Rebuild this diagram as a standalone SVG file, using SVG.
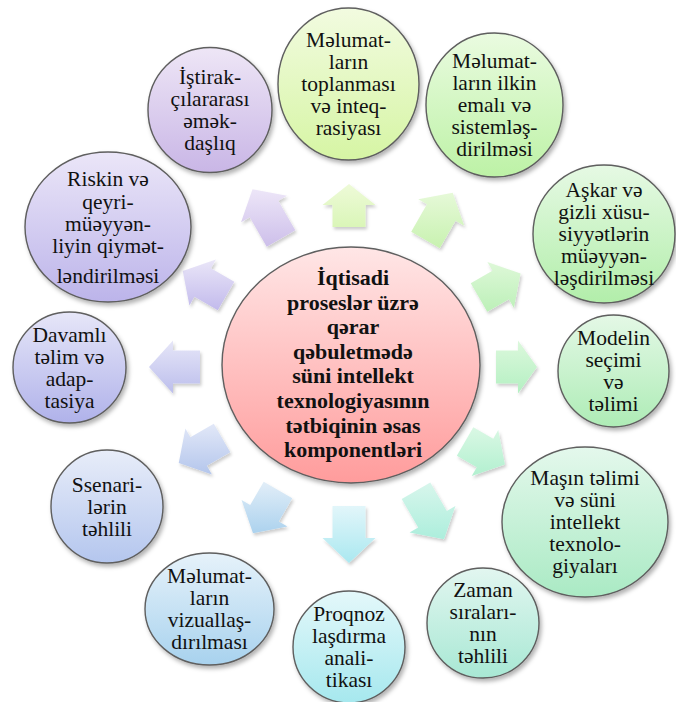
<svg xmlns="http://www.w3.org/2000/svg" width="676" height="702" viewBox="0 0 676 702">
<defs>
<style>
.t{font-family:"Liberation Serif","DejaVu Serif",serif;font-size:21.5px;text-anchor:middle;fill:#111}
.c{font-family:"Liberation Serif","DejaVu Serif",serif;font-size:22px;font-weight:bold;text-anchor:middle;fill:#111}
.n{stroke:#5e5e5e;stroke-width:1.4;filter:url(#sh)}
.a{stroke:none;filter:url(#ash)}
</style>
<filter id="sh" x="-20%" y="-20%" width="140%" height="140%"><feDropShadow dx="2" dy="3" stdDeviation="2" flood-color="#000" flood-opacity="0.3"/></filter>
<filter id="ash" x="-20%" y="-20%" width="140%" height="140%"><feDropShadow dx="1.5" dy="2.5" stdDeviation="1.8" flood-color="#000" flood-opacity="0.2"/></filter>
<linearGradient id="gC" x1="0" y1="0" x2="0" y2="1"><stop offset="0" stop-color="#ffe6e6"/><stop offset="1" stop-color="#ff9c9c"/></linearGradient>
<linearGradient id="g1" x1="0" y1="0" x2="0" y2="1"><stop offset="0" stop-color="#eee6f6"/><stop offset="1" stop-color="#c9b6e6"/></linearGradient>
<linearGradient id="g2" x1="0" y1="0" x2="0" y2="1"><stop offset="0" stop-color="#f2fbe0"/><stop offset="1" stop-color="#d6f5a4"/></linearGradient>
<linearGradient id="g3" x1="0" y1="0" x2="0" y2="1"><stop offset="0" stop-color="#eafbe0"/><stop offset="1" stop-color="#bdf2a6"/></linearGradient>
<linearGradient id="g4" x1="0" y1="0" x2="0" y2="1"><stop offset="0" stop-color="#e6f9e4"/><stop offset="1" stop-color="#b2eeaa"/></linearGradient>
<linearGradient id="g5" x1="0" y1="0" x2="0" y2="1"><stop offset="0" stop-color="#e4f8e6"/><stop offset="1" stop-color="#aeecb6"/></linearGradient>
<linearGradient id="g6" x1="0" y1="0" x2="0" y2="1"><stop offset="0" stop-color="#e4f8ec"/><stop offset="1" stop-color="#aaeac4"/></linearGradient>
<linearGradient id="g7" x1="0" y1="0" x2="0" y2="1"><stop offset="0" stop-color="#e2f6f0"/><stop offset="1" stop-color="#a8e8d4"/></linearGradient>
<linearGradient id="g8" x1="0" y1="0" x2="0" y2="1"><stop offset="0" stop-color="#e4f8fa"/><stop offset="1" stop-color="#a6e8ee"/></linearGradient>
<linearGradient id="g9" x1="0" y1="0" x2="0" y2="1"><stop offset="0" stop-color="#e6f2fa"/><stop offset="1" stop-color="#a8d2ee"/></linearGradient>
<linearGradient id="g10" x1="0" y1="0" x2="0" y2="1"><stop offset="0" stop-color="#e8edf9"/><stop offset="1" stop-color="#b4c6ee"/></linearGradient>
<linearGradient id="g11" x1="0" y1="0" x2="0" y2="1"><stop offset="0" stop-color="#e6e6f8"/><stop offset="1" stop-color="#b0b2ea"/></linearGradient>
<linearGradient id="g12" x1="0" y1="0" x2="0" y2="1"><stop offset="0" stop-color="#ebe6f8"/><stop offset="1" stop-color="#bcb4ea"/></linearGradient>
<linearGradient id="a1" x1="0" y1="0" x2="0" y2="1"><stop offset="0" stop-color="#ede6f8"/><stop offset="1" stop-color="#cdbfea"/></linearGradient>
<linearGradient id="a2" x1="0" y1="0" x2="0" y2="1"><stop offset="0" stop-color="#eefad8"/><stop offset="1" stop-color="#daf6b8"/></linearGradient>
<linearGradient id="a3" x1="0" y1="0" x2="0" y2="1"><stop offset="0" stop-color="#e6f9d8"/><stop offset="1" stop-color="#c8f2b0"/></linearGradient>
<linearGradient id="a4" x1="0" y1="0" x2="0" y2="1"><stop offset="0" stop-color="#def8d8"/><stop offset="1" stop-color="#bcf0b8"/></linearGradient>
<linearGradient id="a5" x1="0" y1="0" x2="0" y2="1"><stop offset="0" stop-color="#dcf8dc"/><stop offset="1" stop-color="#b4f0c2"/></linearGradient>
<linearGradient id="a6" x1="0" y1="0" x2="0" y2="1"><stop offset="0" stop-color="#daf8e4"/><stop offset="1" stop-color="#b2f0d0"/></linearGradient>
<linearGradient id="a7" x1="0" y1="0" x2="0" y2="1"><stop offset="0" stop-color="#d8f6ec"/><stop offset="1" stop-color="#aceedc"/></linearGradient>
<linearGradient id="a8" x1="0" y1="0" x2="0" y2="1"><stop offset="0" stop-color="#e2f6fa"/><stop offset="1" stop-color="#aae8f0"/></linearGradient>
<linearGradient id="a9" x1="0" y1="0" x2="0" y2="1"><stop offset="0" stop-color="#e2eef8"/><stop offset="1" stop-color="#acd2ee"/></linearGradient>
<linearGradient id="a10" x1="0" y1="0" x2="0" y2="1"><stop offset="0" stop-color="#e2e8f8"/><stop offset="1" stop-color="#b4c6ec"/></linearGradient>
<linearGradient id="a11" x1="0" y1="0" x2="0" y2="1"><stop offset="0" stop-color="#e6e6f8"/><stop offset="1" stop-color="#bcbeec"/></linearGradient>
<linearGradient id="a12" x1="0" y1="0" x2="0" y2="1"><stop offset="0" stop-color="#eae6f8"/><stop offset="1" stop-color="#c2baec"/></linearGradient>
</defs>
<rect width="676" height="702" fill="#fff"/>
<g id="connectors">
<polygon class="a" fill="url(#a1)" points="266.71,246.75 249.71,217.31 241.05,222.31 252.5,189.14 286.95,195.81 278.29,200.81 295.29,230.25"/>
<polygon class="a" fill="url(#a2)" points="332.5,227 332.5,205 322.5,205 349,184 375.5,205 365.5,205 365.5,227"/>
<polygon class="a" fill="url(#a3)" points="411.21,231.75 426.96,204.37 418.3,199.37 452.7,192.7 464.2,225.87 455.54,220.87 439.79,248.25"/>
<polygon class="a" fill="url(#a4)" points="470.75,283.21 492.4,270.71 487.4,262.05 520.57,273.5 513.9,307.95 508.9,299.29 487.25,311.79"/>
<polygon class="a" fill="url(#a5)" points="496,350.5 518,350.5 518,340.5 537,367 518,393.5 518,383.5 496,383.5"/>
<polygon class="a" fill="url(#a6)" points="473.33,427.21 493.25,438.71 498.25,430.05 504.92,464.5 471.75,475.95 476.75,467.29 456.83,455.79"/>
<polygon class="a" fill="url(#a7)" points="430.29,482.5 446.79,511.08 455.45,506.08 444,539.25 409.55,532.58 418.21,527.58 401.71,499"/>
<polygon class="a" fill="url(#a8)" points="365.5,506 365.5,538 375.5,538 349,563 322.5,538 332.5,538 332.5,506"/>
<polygon class="a" fill="url(#a9)" points="292.29,498.2 278.79,521.58 287.45,526.58 253,533.25 241.55,500.08 250.21,505.08 263.71,481.7"/>
<polygon class="a" fill="url(#a10)" points="230.3,452.29 206.92,465.79 211.92,474.45 178.75,463 185.42,428.55 190.42,437.21 213.8,423.71"/>
<polygon class="a" fill="url(#a11)" points="200,383.5 173,383.5 173,393.5 149,367 173,340.5 173,350.5 200,350.5"/>
<polygon class="a" fill="url(#a12)" points="217.8,310.29 194.42,296.79 189.42,305.45 182.75,271 215.92,259.55 210.92,268.21 234.3,281.71"/>
</g>
<g id="center">
<ellipse class="n" cx="351" cy="365" rx="129" ry="118" fill="url(#gC)"/>
<text class="c" x="353" y="285">İqtisadi</text>
<text class="c" x="353" y="309.6">proseslər üzrə</text>
<text class="c" x="353" y="334.2">qərar</text>
<text class="c" x="353" y="358.8">qəbuletmədə</text>
<text class="c" x="353" y="383.4">süni intellekt</text>
<text class="c" x="353" y="408">texnologiyasının</text>
<text class="c" x="353" y="432.6">tətbiqinin əsas</text>
<text class="c" x="353" y="457.2">komponentləri</text>
</g>
<g id="n-istirak">
<ellipse class="n" cx="210" cy="110" rx="62" ry="62.5" fill="url(#g1)"/>
<text class="t" x="210" y="84">İştirak-</text>
<text class="t" x="210" y="106">çılararası</text>
<text class="t" x="210" y="128">əmək-</text>
<text class="t" x="210" y="150">daşlıq</text>
</g>
<g id="n-toplanma">
<ellipse class="n" cx="348.5" cy="84" rx="70.5" ry="76" fill="url(#g2)"/>
<text class="t" x="348.5" y="47">Məlumat-</text>
<text class="t" x="348.5" y="69">ların</text>
<text class="t" x="348.5" y="91">toplanması</text>
<text class="t" x="348.5" y="113">və inteq-</text>
<text class="t" x="348.5" y="135">rasiyası</text>
</g>
<g id="n-ilkin">
<ellipse class="n" cx="494.5" cy="105" rx="68.5" ry="72" fill="url(#g3)"/>
<text class="t" x="494.5" y="68">Məlumat-</text>
<text class="t" x="494.5" y="90">ların ilkin</text>
<text class="t" x="494.5" y="112">emalı və</text>
<text class="t" x="494.5" y="134">sistemləş-</text>
<text class="t" x="494.5" y="156">dirilməsi</text>
</g>
<g id="n-askar">
<ellipse class="n" cx="604" cy="234" rx="71" ry="69" fill="url(#g4)"/>
<text class="t" x="604" y="197">Aşkar və</text>
<text class="t" x="604" y="219">gizli xüsu-</text>
<text class="t" x="604" y="241">siyyətlərin</text>
<text class="t" x="604" y="263">müəyyən-</text>
<text class="t" x="604" y="285">ləşdirilməsi</text>
</g>
<g id="n-model">
<ellipse class="n" cx="613.5" cy="371" rx="55.5" ry="56" fill="url(#g5)"/>
<text class="t" x="613.5" y="345">Modelin</text>
<text class="t" x="613.5" y="367">seçimi</text>
<text class="t" x="613.5" y="389">və</text>
<text class="t" x="613.5" y="411">təlimi</text>
</g>
<g id="n-masin">
<ellipse class="n" cx="585" cy="522" rx="83" ry="75" fill="url(#g6)"/>
<text class="t" x="585" y="485">Maşın təlimi</text>
<text class="t" x="585" y="507">və süni</text>
<text class="t" x="585" y="529">intellekt</text>
<text class="t" x="585" y="551">texnolo-</text>
<text class="t" x="585" y="573">giyaları</text>
</g>
<g id="n-zaman">
<ellipse class="n" cx="483" cy="623" rx="56" ry="55" fill="url(#g7)"/>
<text class="t" x="483" y="597">Zaman</text>
<text class="t" x="483" y="619">sıraları-</text>
<text class="t" x="483" y="641">nın</text>
<text class="t" x="483" y="663">təhlili</text>
</g>
<g id="n-proqnoz">
<ellipse class="n" cx="349" cy="647" rx="56" ry="56" fill="url(#g8)"/>
<text class="t" x="349" y="621">Proqnoz</text>
<text class="t" x="349" y="643">laşdırma</text>
<text class="t" x="349" y="665">anali-</text>
<text class="t" x="349" y="687">tikası</text>
</g>
<g id="n-vizual">
<ellipse class="n" cx="209.5" cy="609" rx="64.5" ry="56" fill="url(#g9)"/>
<text class="t" x="209.5" y="583">Məlumat-</text>
<text class="t" x="209.5" y="605">ların</text>
<text class="t" x="209.5" y="627">vizuallaş-</text>
<text class="t" x="209.5" y="649">dırılması</text>
</g>
<g id="n-ssenari">
<ellipse class="n" cx="107" cy="506.5" rx="56" ry="56.5" fill="url(#g10)"/>
<text class="t" x="107" y="492">Ssenari-</text>
<text class="t" x="107" y="514">lərin</text>
<text class="t" x="107" y="536">təhlili</text>
</g>
<g id="n-davamli">
<ellipse class="n" cx="69.5" cy="367.5" rx="56.5" ry="55.5" fill="url(#g11)"/>
<text class="t" x="69.5" y="341.5">Davamlı</text>
<text class="t" x="69.5" y="363.5">təlim və</text>
<text class="t" x="69.5" y="385.5">adap-</text>
<text class="t" x="69.5" y="407.5">tasiya</text>
</g>
<g id="n-riskin">
<ellipse class="n" cx="108" cy="227" rx="83" ry="75" fill="url(#g12)"/>
<text class="t" x="108" y="186">Riskin və</text>
<text class="t" x="108" y="209">qeyri-</text>
<text class="t" x="108" y="231">müəyyən-</text>
<text class="t" x="108" y="253">liyin qiymət-</text>
<text class="t" x="108" y="283">ləndirilməsi</text>
</g>
</svg>
